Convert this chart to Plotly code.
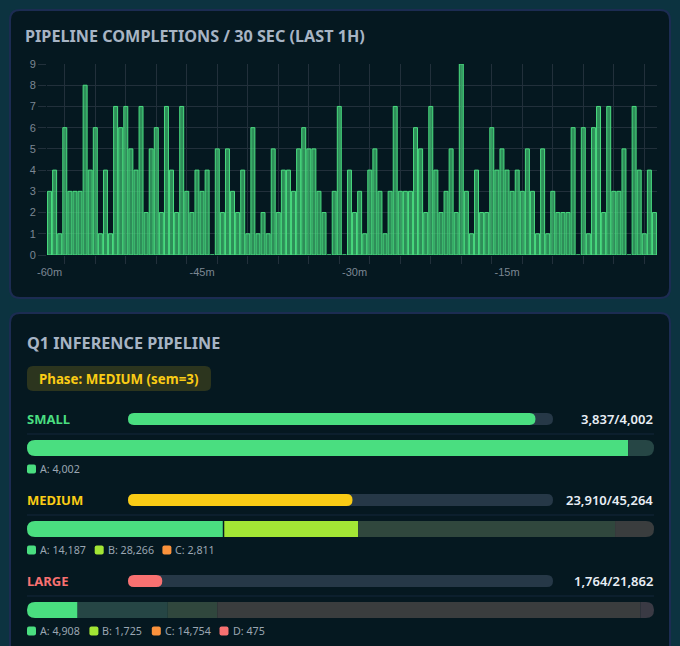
import plotly.graph_objects as go

W, H = 680, 646

# completions per 30 s bucket, oldest first (120 buckets = last hour)
COMPLETIONS = [
    3, 4, 1, 6, 3, 3, 3, 8, 4, 6,
    1, 4, 1, 7, 6, 7, 5, 4, 7, 2,
    5, 6, 2, 7, 4, 2, 7, 3, 2, 4,
    3, 4, 0, 5, 2, 5, 3, 2, 4, 1,
    6, 1, 2, 1, 5, 2, 4, 4, 3, 5,
    6, 5, 5, 3, 2, 0, 3, 7, 0, 4,
    2, 3, 1, 4, 5, 3, 1, 3, 7, 3,
    3, 3, 6, 5, 2, 7, 4, 2, 3, 5,
    2, 9, 3, 1, 4, 2, 2, 6, 4, 5,
    4, 3, 4, 3, 5, 3, 1, 5, 1, 3,
    2, 2, 2, 6, 0, 6, 1, 6, 7, 2,
    7, 3, 3, 5, 0, 7, 4, 1, 4, 2,
]
TIME_TICKS = [0, 30, 60, 90]
TIME_LABELS = ["-60m", "-45m", "-30m", "-15m"]

# pipeline stages
STAGES = ["SMALL", "MEDIUM", "LARGE"]
STAGE_DONE = [3837, 23910, 1764]
STAGE_TOTAL = [4002, 45264, 21862]
SEG_NAMES = [["A"], ["A", "B", "C"], ["A", "B", "C", "D"]]
SEG_COUNTS = [[4002], [14187, 28266, 2811], [4908, 1725, 14754, 475]]
PHASE_TEXT = "Phase: MEDIUM (sem=3)"

STAGE_COLORS = ["#4ade80", "#facc15", "#f87171"]
SEG_COLORS = {"A": "#4ade80", "B": "#a3e635", "C": "#fb923c", "D": "#f87171"}

BG = "#0c3340"
CARD = "#051820"
CARD_LINE = "#1c2c52"
GRID = "#22303b"
TRACK = "#263847"
PENDING_BASE = "#22333e"
FONT = "Noto Sans"


def px(x):
    return x / W


def py(y):
    return 1 - y / H


def rrect(x0, y0, x1, y1, r, left=True, right=True):
    """rounded rect path in page pixels -> paper coords"""
    r = min(r, (y1 - y0) / 2, (x1 - x0) / (2 if left and right else 1))
    rl = r if left else 0
    rr = r if right else 0
    pts = [
        ("M", [(x0 + rl, y0)]),
        ("L", [(x1 - rr, y0)]),
        ("Q", [(x1, y0), (x1, y0 + rr)]),
        ("L", [(x1, y1 - rr)]),
        ("Q", [(x1, y1), (x1 - rr, y1)]),
        ("L", [(x0 + rl, y1)]),
        ("Q", [(x0, y1), (x0, y1 - rl)]),
        ("L", [(x0, y0 + rl)]),
        ("Q", [(x0, y0), (x0 + rl, y0)]),
    ]
    path = ""
    for cmd, coords in pts:
        path += cmd + " ".join("{:.5f},{:.5f}".format(px(a), py(b)) for a, b in coords)
    return path + " Z"


def shape_path(path, fill, line=None, width=0):
    return dict(type="path", xref="paper", yref="paper", path=path,
                fillcolor=fill, layer="below",
                line=dict(color=line or "rgba(0,0,0,0)", width=width))


def mix(hex_color, alpha, base=CARD):
    h = hex_color.lstrip("#")
    r, g, b = int(h[0:2], 16), int(h[2:4], 16), int(h[4:6], 16)
    c = base.lstrip("#")
    br, bg, bb = int(c[0:2], 16), int(c[2:4], 16), int(c[4:6], 16)
    return "rgb({},{},{})".format(
        round(r * alpha + br * (1 - alpha)),
        round(g * alpha + bg * (1 - alpha)),
        round(b * alpha + bb * (1 - alpha)))


def text(x, y, s, size, color, weight=400, xanchor="left", family=FONT):
    return dict(x=px(x), y=py(y), xref="paper", yref="paper", text=s,
                showarrow=False, xanchor=xanchor, yanchor="middle",
                font=dict(family=family, size=size, color=color, weight=weight))


shapes = []
annotations = []

# cards
shapes.append(shape_path(rrect(10, 10, 670, 298, 10), CARD, CARD_LINE, 2))
shapes.append(shape_path(rrect(10, 313, 670, 680, 10), CARD, CARD_LINE, 2))

annotations.append(text(23, 36, "PIPELINE COMPLETIONS / 30 SEC (LAST 1H)", 16.2, "#a7b4c4", 700))
annotations.append(text(25, 343, "Q1 INFERENCE PIPELINE", 16.2, "#a7b4c4", 700))

# phase badge
shapes.append(shape_path(rrect(27, 366, 211, 391, 6), mix("#facc15", 0.16)))
annotations.append(text(37, 379, PHASE_TEXT, 13.3, "#facc15", 700))

row_y = [419, 500, 581]
TRACK_X0, TRACK_X1 = 128, 553
BAR_X0, BAR_X1 = 27, 654

for i, stage in enumerate(STAGES):
    y = row_y[i]
    annotations.append(text(25, y, stage, 13, STAGE_COLORS[i], 700))
    # progress track
    shapes.append(shape_path(rrect(TRACK_X0, y - 6, TRACK_X1, y + 6, 6), TRACK))
    frac = STAGE_DONE[i] / STAGE_TOTAL[i]
    fx = TRACK_X0 + frac * (TRACK_X1 - TRACK_X0)
    shapes.append(shape_path(rrect(TRACK_X0, y - 6, fx, y + 6, 6), STAGE_COLORS[i]))
    annotations.append(text(655, y, "{:,}/{:,}".format(STAGE_DONE[i], STAGE_TOTAL[i]),
                            13, "#e8eef5", 600, xanchor="right"))
    # separator
    shapes.append(dict(type="line", xref="paper", yref="paper", layer="below",
                       x0=px(27), x1=px(654), y0=py(y + 15), y1=py(y + 15),
                       line=dict(color="#15263a", width=1)))
    # stacked segment bar
    by0, by1 = y + 21, y + 37
    total = sum(SEG_COUNTS[i])
    scale = (BAR_X1 - BAR_X0) / total
    remaining = STAGE_DONE[i]
    pieces = []
    gaps = []
    cx = BAR_X0
    for k, (name, cnt) in enumerate(zip(SEG_NAMES[i], SEG_COUNTS[i])):
        done = min(cnt, max(remaining, 0))
        remaining -= cnt
        col = SEG_COLORS[name]
        if done > 0:
            pieces.append((cx, cx + done * scale, col))
        if cnt - done > 0:
            pieces.append((cx + done * scale, cx + cnt * scale, mix(col, 0.11, PENDING_BASE)))
        cx += cnt * scale
        if done == cnt and k < len(SEG_COUNTS[i]) - 1:
            gaps.append(cx)
    for k, (a, b, col) in enumerate(pieces):
        shapes.append(shape_path(
            rrect(a, by0, b, by1, 8, left=(k == 0), right=(k == len(pieces) - 1)), col))
    for gx in gaps:
        shapes.append(dict(type="line", xref="paper", yref="paper", layer="below",
                           x0=px(gx), x1=px(gx), y0=py(by0), y1=py(by1),
                           line=dict(color=CARD, width=1.5)))
    # legend
    lx = 27
    ly = y + 50
    for name, cnt in zip(SEG_NAMES[i], SEG_COUNTS[i]):
        label = "{}: {:,}".format(name, cnt)
        shapes.append(shape_path(rrect(lx, ly - 4.5, lx + 9, ly + 4.5, 2), SEG_COLORS[name]))
        annotations.append(text(lx + 11, ly, label, 10.7, "#9aa6b2"))
        lx += 20 + 5.3 * len(label)

fig = go.Figure()
fig.add_trace(go.Bar(
    x=list(range(len(COMPLETIONS))), y=COMPLETIONS,
    marker=dict(color="rgba(74,222,128,0.6)",
                line=dict(color="#4ade80", width=1)),
    hoverinfo="y"))

fig.update_layout(
    width=W, height=H, autosize=False,
    margin=dict(l=0, r=0, t=0, b=0, pad=0, autoexpand=False),
    paper_bgcolor=BG, plot_bgcolor="rgba(0,0,0,0)",
    showlegend=False, bargap=0.22,
    shapes=shapes, annotations=annotations,
    xaxis=dict(
        domain=[px(47), px(657)], range=[-0.5, len(COMPLETIONS) - 0.5],
        automargin=False,
        tickmode="array", tickvals=TIME_TICKS, ticktext=TIME_LABELS,
        showgrid=False, zeroline=False, showline=False,
        ticks="outside", ticklen=7, tickcolor="rgba(0,0,0,0)",
        tickfont=dict(family="Liberation Sans", size=11, color="#7c8793"),
        minor=dict(tick0=3, dtick=6, showgrid=True, gridcolor=GRID, gridwidth=1,
                   ticks="outside", ticklen=8, tickcolor=GRID),
    ),
    yaxis=dict(
        domain=[py(255), py(64)], range=[0, 9], dtick=1,
        automargin=False,
        showgrid=True, gridcolor=GRID, zeroline=False, showline=False,
        ticks="outside", ticklen=8, tickcolor=GRID,
        tickfont=dict(family="Liberation Sans", size=11, color="#7c8793"),
    ),
)

# drop the default body margin so the figure sits flush in the window
fig.write_html(
    "out.html",
    config={"displayModeBar": False},
    post_script="document.body.style.margin='0';"
                "document.body.style.background='" + BG + "';")
